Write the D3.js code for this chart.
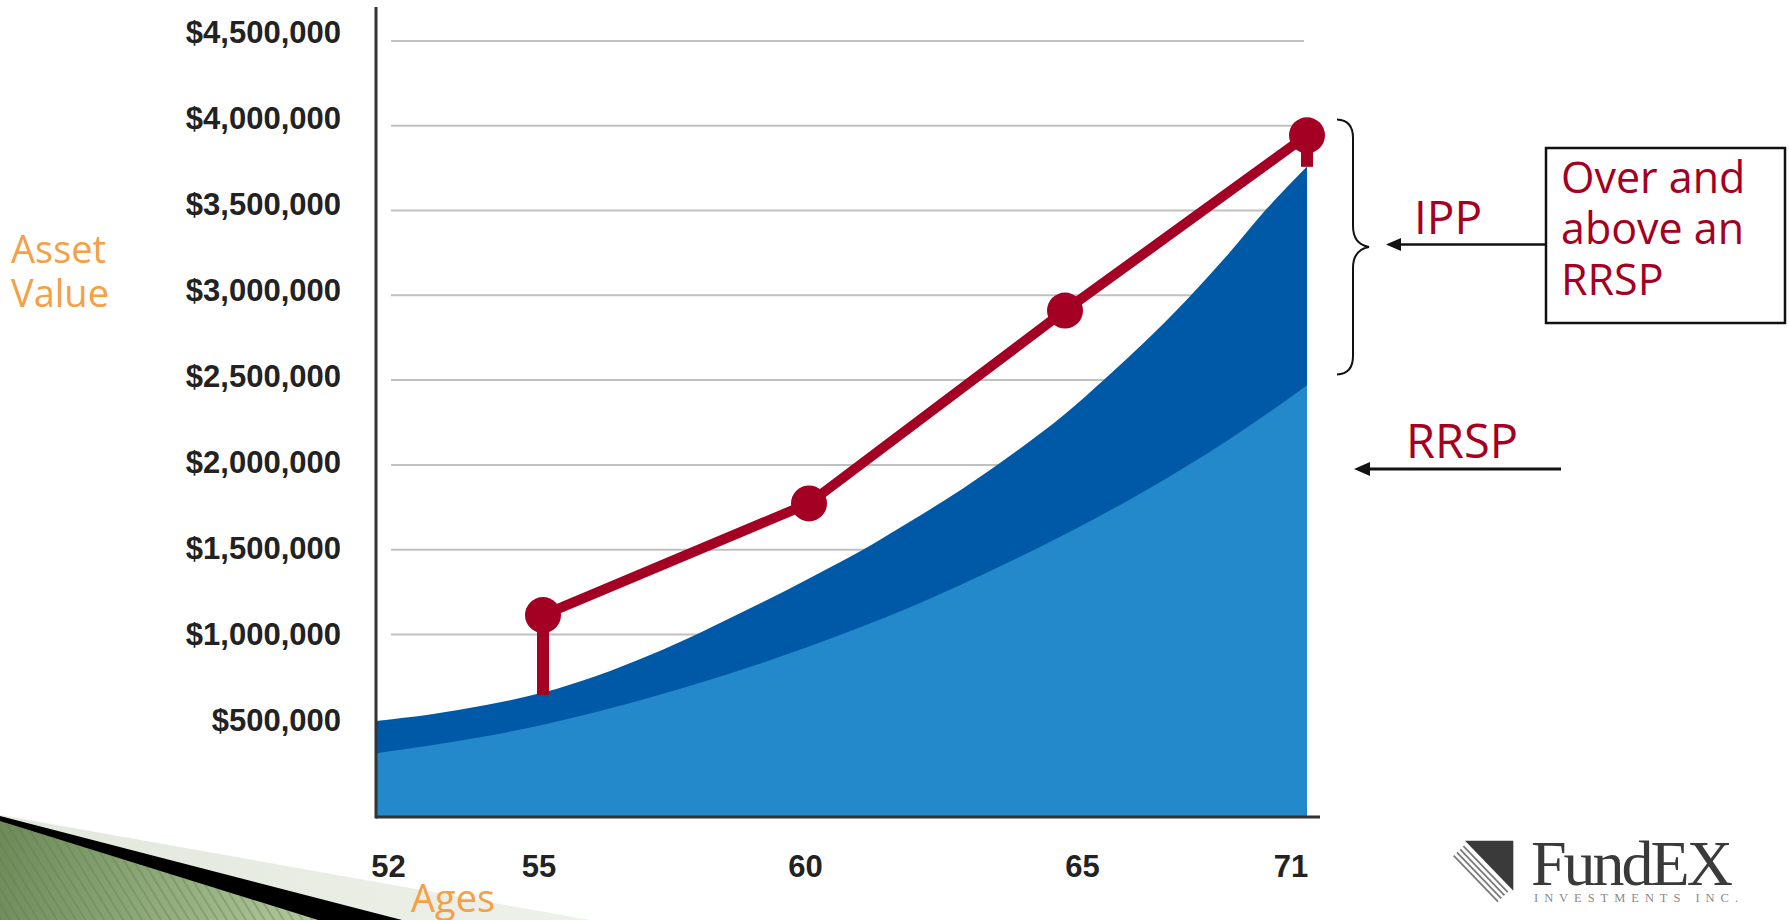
<!DOCTYPE html>
<html><head><meta charset="utf-8">
<script src="https://cdn.jsdelivr.net/npm/d3@7"></script>
<style>
html,body{margin:0;padding:0;background:#fff;overflow:hidden;}
svg{display:block;}
</style></head>
<body>
<svg id="chart" width="1789" height="920"></svg>
<script>
// ---------------- data ----------------
const ages = [52,53,54,55,56,57,58,59,60,61,62,63,64,65,66,67,68,69,70,71];
// RRSP asset value (light blue area)
const rrspValues = [300000,347000,401000,468000,542000,626000,719000,820000,929000,1042000,
                    1164000,1297000,1440000,1591000,1716000,1849000,1990000,2140000,2300000,2470000];
// RRSP + IPP total (top of dark blue area)
const totalValues = [490000,529000,585000,657000,755000,877000,1018000,1170000,1330000,1490000,
                     1670000,1860000,2070000,2300000,2510000,2730000,2970000,3230000,3510000,3760000];
// IPP line (red)
const ippAges = [55,60,65,71];
const ippValues = [1114000,1773000,2910000,3944000];
// vertical stems from the IPP markers down to the areas
const stemAges = [55,71];
const stemTops = [1114000,3944000];
const stemBottoms = [643000,3758000];
// axis ticks
const yTicks = [500000,1000000,1500000,2000000,2500000,3000000,3500000,4000000,4500000];
const gridTicks = [1000000,1500000,2000000,2500000,3000000,3500000,4000000,4500000];
const xTickAges = [52,55,60,65,71];
const xTickLabels = ["52","55","60","65","71"];
const yTitleLines = ["Asset","Value"];
const xTitle = "Ages";
const boxLines = ["Over and","above an","RRSP"];
const ippLabel = "IPP";
const rrspLabel = "RRSP";
const logoName = "FundEX";
const logoSub = "INVESTMENTS INC.";

// ---------------- layout ----------------
const svg = d3.select("#chart");
const C = {
  light:"#2389CB", dark:"#0059A6", red:"#A30024", grid:"#C0C0C0",
  axis:"#333333", tick:"#222222", orange:"#F5A044", annot:"#A50021"
};
const plotLeft = 376, plotBottom = 817;

const x = d3.scaleLinear().domain([52,55,60,65,71]).range([376,543,809,1065,1307]);
const xLabel = d3.scaleLinear().domain([52,55,60,65,71]).range([388,538.5,805,1082,1290.6]);
const y = d3.scaleLinear().domain([0,4500000]).range([804,41]);
const yLabel = d3.scaleLinear().domain([500000,4500000]).range([730,42.5]);

// ---------------- decoration (bottom-left slide wedge) ----------------
const defs = svg.append("defs");
const lg = defs.append("linearGradient").attr("id","greenGrad")
  .attr("gradientUnits","userSpaceOnUse").attr("x1",0).attr("y1",830).attr("x2",320).attr("y2",920);
lg.append("stop").attr("offset","0%").attr("stop-color","#6D8A58");
lg.append("stop").attr("offset","100%").attr("stop-color","#B2C99C");
const pg = defs.append("linearGradient").attr("id","paleGrad")
  .attr("gradientUnits","userSpaceOnUse").attr("x1",0).attr("y1",0).attr("x2",590).attr("y2",0);
pg.append("stop").attr("offset","0%").attr("stop-color","#E2E8DC");
pg.append("stop").attr("offset","100%").attr("stop-color","#EEF1EA");
const pat = defs.append("pattern").attr("id","stripes").attr("patternUnits","userSpaceOnUse")
  .attr("width",8).attr("height",8).attr("patternTransform","rotate(-32)");
pat.append("rect").attr("width",2).attr("height",8).attr("fill","#5E7A4C").attr("opacity",0.35);

svg.append("polygon").attr("points","0,815 590,920 0,920").attr("fill","url(#paleGrad)");
svg.append("polygon").attr("points","0,816 402,920 0,920").attr("fill","#000");
svg.append("polygon").attr("points","0,821 318,920 0,920").attr("fill","url(#greenGrad)");
svg.append("polygon").attr("points","0,821 318,920 0,920").attr("fill","url(#stripes)");

// ---------------- gridlines ----------------
svg.append("g").selectAll("line").data(gridTicks).join("line")
  .attr("x1",391).attr("x2",1304)
  .attr("y1",d=>y(d)).attr("y2",d=>y(d))
  .attr("stroke",C.grid).attr("stroke-width",2);

// ---------------- areas ----------------
const series = ages.map((a,i)=>({age:a, rrsp:rrspValues[i], total:totalValues[i]}));
const areaTotal = d3.area().curve(d3.curveMonotoneX)
  .x(d=>x(d.age)).y0(plotBottom).y1(d=>y(d.total));
const areaRrsp = d3.area().curve(d3.curveMonotoneX)
  .x(d=>x(d.age)).y0(plotBottom).y1(d=>y(d.rrsp));
svg.append("path").datum(series).attr("d",areaTotal).attr("fill",C.dark);
svg.append("path").datum(series).attr("d",areaRrsp).attr("fill",C.light);

// ---------------- axes lines ----------------
svg.append("line").attr("x1",plotLeft).attr("x2",plotLeft).attr("y1",7).attr("y2",plotBottom+1.5)
  .attr("stroke",C.axis).attr("stroke-width",3);
svg.append("line").attr("x1",plotLeft).attr("x2",1320).attr("y1",plotBottom).attr("y2",plotBottom)
  .attr("stroke",C.axis).attr("stroke-width",3);

// ---------------- IPP line, stems, markers ----------------
const stems = stemAges.map((a,i)=>({age:a, top:stemTops[i], bottom:stemBottoms[i]}));
svg.append("g").selectAll("line").data(stems).join("line")
  .attr("x1",d=>x(d.age)).attr("x2",d=>x(d.age))
  .attr("y1",d=>y(d.top)).attr("y2",d=>y(d.bottom))
  .attr("stroke",C.red).attr("stroke-width",12);
const ipp = ippAges.map((a,i)=>({age:a, v:ippValues[i]}));
svg.append("path").datum(ipp)
  .attr("d",d3.line().x(d=>x(d.age)).y(d=>y(d.v)))
  .attr("fill","none").attr("stroke",C.red).attr("stroke-width",10).attr("stroke-linejoin","round");
svg.append("g").selectAll("circle").data(ipp).join("circle")
  .attr("cx",d=>x(d.age)).attr("cy",d=>y(d.v)).attr("r",18).attr("fill",C.red);

// ---------------- tick labels ----------------
const yAxisG = svg.append("g").attr("transform","translate(341,0)")
  .call(d3.axisLeft(yLabel).tickValues(yTicks).tickSize(0).tickPadding(0)
        .tickFormat(d=>"$"+d3.format(",")(d)));
yAxisG.select(".domain").remove();
yAxisG.attr("font-family","'Liberation Sans', Arial, sans-serif").attr("font-size",31).attr("font-weight","bold");
yAxisG.selectAll("text").attr("dy",0).attr("fill",C.tick);

const xAxisG = svg.append("g").attr("transform","translate(0,876.7)")
  .call(d3.axisBottom(xLabel).tickValues(xTickAges).tickSize(0).tickPadding(0)
        .tickFormat((d,i)=>xTickLabels[i]));
xAxisG.select(".domain").remove();
xAxisG.attr("font-family","'Liberation Sans', Arial, sans-serif").attr("font-size",31).attr("font-weight","bold");
xAxisG.selectAll("text").attr("dy",0).attr("y",0).attr("fill",C.tick);

// ---------------- axis titles ----------------
const sans = "'Open Sans', 'Noto Sans', sans-serif";
svg.append("g").selectAll("text").data(yTitleLines).join("text")
  .attr("x",11).attr("y",(d,i)=>263+i*44)
  .attr("font-family",sans).attr("font-size",38).attr("fill",C.orange).text(d=>d);
svg.append("text").attr("x",411).attr("y",912)
  .attr("font-family",sans).attr("font-size",38).attr("fill",C.orange).text(xTitle);

// ---------------- annotations ----------------
// brace
svg.append("path")
  .attr("d","M1337,119.5 C1348,120 1353,126 1353,138 L1353,226 C1353,238 1358,245 1369,247 C1358,249 1353,256 1353,268 L1353,356 C1353,368 1348,374 1337,374.5")
  .attr("fill","none").attr("stroke","#111").attr("stroke-width",2);
// IPP arrow
svg.append("line").attr("x1",1399).attr("x2",1546).attr("y1",244.5).attr("y2",244.5)
  .attr("stroke","#111").attr("stroke-width",2.5);
svg.append("polygon").attr("points","1386,244.5 1401,238 1401,251").attr("fill","#111");
// RRSP arrow
svg.append("line").attr("x1",1367).attr("x2",1561).attr("y1",469).attr("y2",469)
  .attr("stroke","#111").attr("stroke-width",3);
svg.append("polygon").attr("points","1354,469 1370,462 1370,476").attr("fill","#111");
// box
svg.append("rect").attr("x",1546).attr("y",148).attr("width",239).attr("height",175)
  .attr("fill","#fff").attr("stroke","#111").attr("stroke-width",2.5);
svg.append("g").selectAll("text").data(boxLines).join("text")
  .attr("x",1561).attr("y",(d,i)=>193.3+i*51)
  .attr("font-family",sans).attr("font-size",43).attr("fill",C.annot).text(d=>d);
svg.append("text").attr("x",1414).attr("y",234)
  .attr("font-family",sans).attr("font-size",46).attr("fill",C.annot).text(ippLabel);
svg.append("text").attr("x",1406).attr("y",458.3)
  .attr("font-family",sans).attr("font-size",47).attr("fill",C.annot).text(rrspLabel);

// ---------------- logo ----------------
const logo = svg.append("g");
logo.append("polygon").attr("points","1465,840.7 1513.3,840.7 1513.3,890.7").attr("fill","#3A3A3A");
[5,9.5,14,18.5].forEach(off=>{
  const dx=-0.719*off, dy=0.695*off;
  logo.append("line")
    .attr("x1",1465+dx+2).attr("y1",840.7+dy+2)
    .attr("x2",1513.3+dx-2).attr("y2",890.7+dy-2)
    .attr("stroke","#7A7A7A").attr("stroke-width",1.8);
});
logo.append("text").attr("x",1531).attr("y",885)
  .attr("font-family","'Liberation Serif', 'Times New Roman', serif").attr("font-size",64)
  .attr("letter-spacing",-3).attr("fill","#3A3A3A").text(logoName);
logo.append("text").attr("x",1534).attr("y",901.7)
  .attr("font-family","'Liberation Serif', 'Times New Roman', serif").attr("font-size",12.5)
  .attr("textLength",204).attr("lengthAdjust","spacing").attr("fill","#8A8A8A").text(logoSub);
</script>
</body></html>
